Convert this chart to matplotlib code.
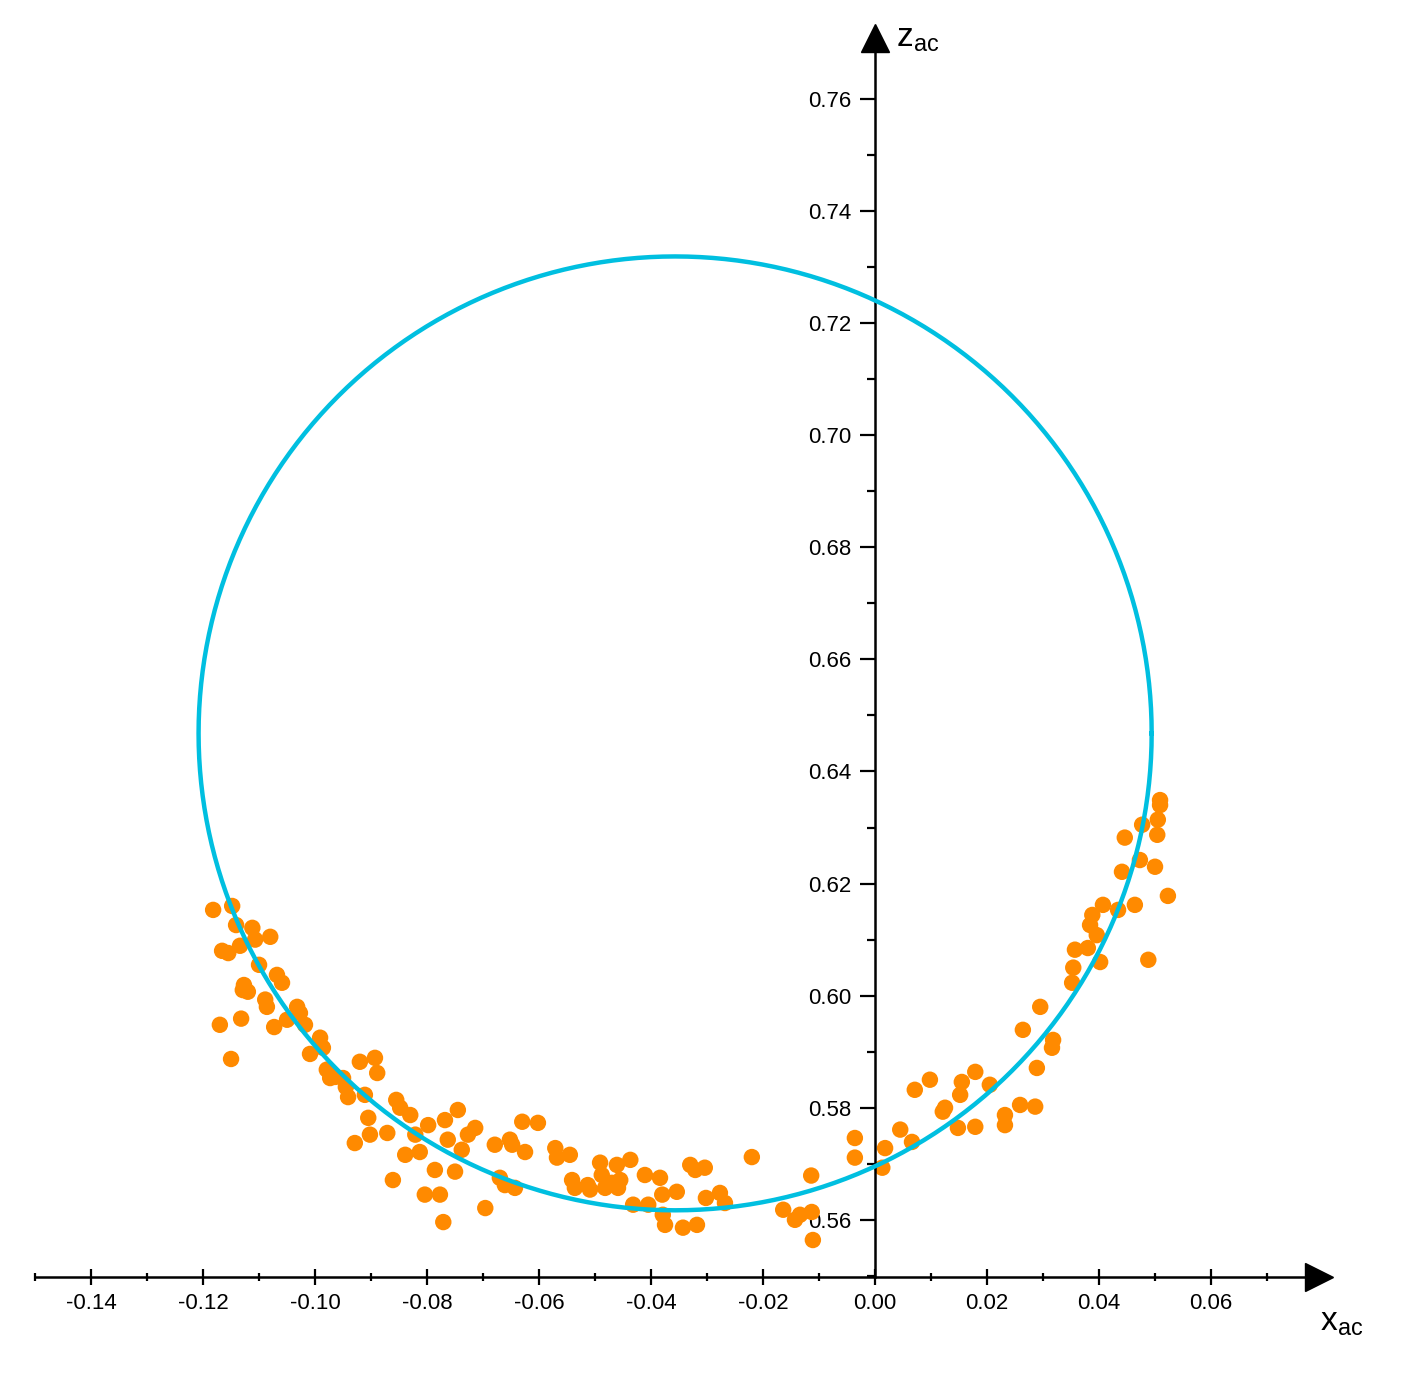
import numpy as np
import matplotlib.pyplot as plt
from matplotlib.ticker import MultipleLocator, FormatStrFormatter

plt.rcParams['font.family'] = ['Liberation Sans', 'DejaVu Sans']

# scatter data
x_ac = [-0.1182, -0.1148, -0.1141, -0.1166, -0.1155, -0.1112, -0.1107, -0.1134, -0.1080, -0.1127,
        -0.1120, -0.1129, -0.1100, -0.1170, -0.1150, -0.1132, -0.1089, -0.1086, -0.1068, -0.1059,
        -0.1073, -0.1050, -0.1032, -0.1027, -0.1018, -0.1009, -0.0991, -0.0986, -0.0979, -0.0973,
        -0.0964, -0.0950, -0.0945, -0.0941, -0.0929, -0.0920, -0.0911, -0.0905, -0.0902, -0.0893,
        -0.0889, -0.0871, -0.0861, -0.0855, -0.0848, -0.0839, -0.0830, -0.0821, -0.0813, -0.0804,
        -0.0798, -0.0786, -0.0777, -0.0771, -0.0768, -0.0763, -0.0750, -0.0745, -0.0738, -0.0727,
        -0.0714, -0.0696, -0.0679, -0.0670, -0.0661, -0.0652, -0.0648, -0.0643, -0.0630, -0.0625,
        -0.0602, -0.0571, -0.0568, -0.0545, -0.0541, -0.0536, -0.0513, -0.0509, -0.0491, -0.0488,
        -0.0482, -0.0470, -0.0461, -0.0455, -0.0459, -0.0437, -0.0432, -0.0411, -0.0405, -0.0384,
        -0.0380, -0.0379, -0.0375, -0.0354, -0.0343, -0.0330, -0.0321, -0.0318, -0.0304, -0.0302,
        -0.0277, -0.0268, -0.0220, -0.0164, -0.0143, -0.0134, -0.0114, -0.0113, -0.0111, -0.0036,
        -0.0036, 0.0013, 0.0018, 0.0045, 0.0066, 0.0071, 0.0098, 0.0121, 0.0125, 0.0148,
        0.0152, 0.0155, 0.0179, 0.0179, 0.0205, 0.0232, 0.0232, 0.0259, 0.0264, 0.0286,
        0.0289, 0.0295, 0.0316, 0.0318, 0.0352, 0.0354, 0.0357, 0.0380, 0.0384, 0.0388,
        0.0396, 0.0402, 0.0407, 0.0434, 0.0441, 0.0446, 0.0464, 0.0473, 0.0477, 0.0488,
        0.0500, 0.0504, 0.0505, 0.0509, 0.0509, 0.0523]
z_ac = [0.6153, 0.6160, 0.6126, 0.6080, 0.6076, 0.6121, 0.6100, 0.6089, 0.6105, 0.6019,
        0.6007, 0.6010, 0.6055, 0.5948, 0.5887, 0.5959, 0.5993, 0.5980, 0.6037, 0.6023,
        0.5944, 0.5957, 0.5980, 0.5969, 0.5948, 0.5896, 0.5925, 0.5907, 0.5868, 0.5853,
        0.5855, 0.5853, 0.5837, 0.5819, 0.5737, 0.5882, 0.5823, 0.5782, 0.5752, 0.5889,
        0.5862, 0.5755, 0.5671, 0.5814, 0.5800, 0.5716, 0.5787, 0.5752, 0.5721, 0.5645,
        0.5769, 0.5689, 0.5645, 0.5596, 0.5778, 0.5743, 0.5686, 0.5796, 0.5725, 0.5752,
        0.5764, 0.5621, 0.5734, 0.5675, 0.5662, 0.5743, 0.5734, 0.5657, 0.5775, 0.5721,
        0.5773, 0.5728, 0.5711, 0.5716, 0.5671, 0.5657, 0.5662, 0.5654, 0.5702, 0.5680,
        0.5657, 0.5666, 0.5698, 0.5671, 0.5657, 0.5707, 0.5627, 0.5680, 0.5627, 0.5675,
        0.5645, 0.5609, 0.5591, 0.5650, 0.5586, 0.5698, 0.5689, 0.5591, 0.5693, 0.5639,
        0.5648, 0.5630, 0.5712, 0.5618, 0.5600, 0.5609, 0.5679, 0.5614, 0.5564, 0.5746,
        0.5711, 0.5693, 0.5728, 0.5761, 0.5739, 0.5832, 0.5850, 0.5793, 0.5800, 0.5764,
        0.5823, 0.5846, 0.5864, 0.5766, 0.5841, 0.5769, 0.5787, 0.5805, 0.5939, 0.5802,
        0.5871, 0.5980, 0.5907, 0.5921, 0.6023, 0.6050, 0.6082, 0.6085, 0.6126, 0.6144,
        0.6108, 0.6060, 0.6162, 0.6153, 0.6221, 0.6282, 0.6162, 0.6242, 0.6305, 0.6064,
        0.6230, 0.6287, 0.6314, 0.6340, 0.6349, 0.6178]

# fitted circle
circle_center = (-0.0357, 0.6468)
circle_radius = 0.0851

XMIN, XMAX = -0.15, 0.0818
YMIN, YMAX = 0.5498, 0.7723

fig = plt.figure(figsize=(14.08, 13.9), dpi=100)
ax = fig.add_axes([0.0249, 0.0813, 0.9219, 0.8971])

t = np.linspace(0, 2 * np.pi, 721)
ax.plot(circle_center[0] + circle_radius * np.cos(t),
        circle_center[1] + circle_radius * np.sin(t),
        color='#00BFE0', linewidth=3.2, zorder=3)
ax.scatter(x_ac, z_ac, s=140, color='#FF8A00', edgecolors='none', zorder=2)

ax.set_xlim(XMIN, XMAX)
ax.set_ylim(YMIN, YMAX)
for s in ['top', 'right']:
    ax.spines[s].set_visible(False)
ax.spines['left'].set_position(('data', 0))
ax.spines['left'].set_bounds(YMIN, YMAX - 0.003)
ax.spines['bottom'].set_bounds(XMIN, XMAX - 0.005)
for s in ['left', 'bottom']:
    ax.spines[s].set_linewidth(1.8)

ax.xaxis.set_major_locator(MultipleLocator(0.02))
ax.xaxis.set_minor_locator(MultipleLocator(0.01))
ax.yaxis.set_major_locator(MultipleLocator(0.02))
ax.yaxis.set_minor_locator(MultipleLocator(0.01))
ax.xaxis.set_major_formatter(FormatStrFormatter('%.2f'))
ax.yaxis.set_major_formatter(FormatStrFormatter('%.2f'))
ax.set_xticks([v / 100 for v in range(-14, 7, 2)])
ax.set_yticks([v / 100 for v in range(56, 77, 2)])
ax.tick_params(axis='both', which='major', length=11, width=1.6, labelsize=16, pad=6)
ax.tick_params(axis='both', which='minor', length=6, width=1.6)
ax.tick_params(axis='x', which='both', direction='inout')
ax.tick_params(axis='y', which='both', direction='out')

# arrow heads
ax.plot(XMAX - 0.0025, YMIN, marker='>', markersize=20, color='black', clip_on=False, zorder=5)
ax.plot(0, YMAX - 0.0015, marker='^', markersize=20, color='black', clip_on=False, zorder=5)

ax.text(0.0795, 0.5445, r'x$_{\mathregular{ac}}$', fontsize=24, ha='left', va='top')
ax.text(0.0037, 0.7735, r'z$_{\mathregular{ac}}$', fontsize=24, ha='left', va='top')

fig.savefig('out.png', dpi=100)
